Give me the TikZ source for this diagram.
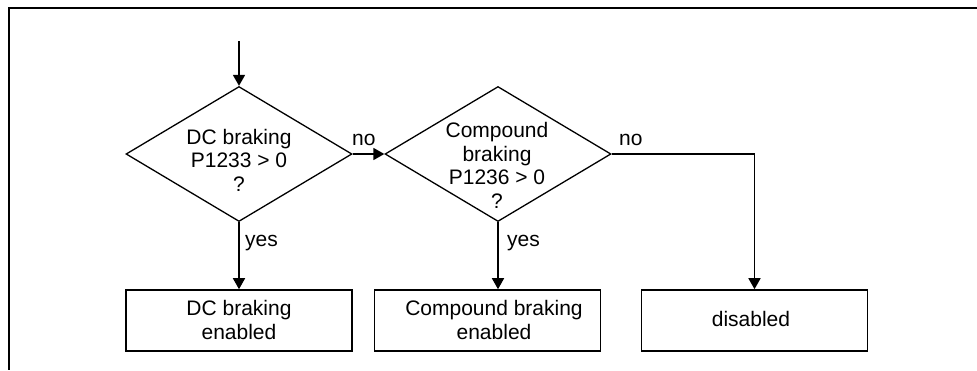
\documentclass[tikz,border=0pt]{standalone}
\usepackage{fontspec}
\setmainfont{Liberation Sans}
\usetikzlibrary{shapes.geometric,arrows.meta}
\begin{document}
\begin{tikzpicture}[x=1pt,y=-1pt,
  every node/.style={font=\fontsize{21}{23.5}\selectfont},
  dia/.style={draw,line width=1.3pt,shape=diamond,inner sep=0pt,minimum width=226pt,minimum height=135pt,aspect=1.67},
  box/.style={draw,line width=1.6pt,rectangle,inner sep=0pt,minimum width=226pt,minimum height=61pt},
  txt/.style={align=center,inner sep=0pt},
  lab/.style={anchor=west,inner sep=0pt},
  conn/.style={line width=1.6pt,-{Triangle[length=11pt,width=12pt]}}]
\useasboundingbox (0,0) rectangle (977,370);
\draw[line width=2.2pt] (977,8) -- (9,8) -- (9,370);
\node[dia] (d1) at (239,154) {};
\node[dia] (d2) at (498,154) {};
\node[txt] (t1) at (239,160) {DC braking\\P1233 > 0\\?};
\node[txt] (t2) at (497,165.5) {Compound\\braking\\P1236 > 0\\?};
\node[box] (b1) at (239,320.5) {};
\node[box] (b2) at (487.5,320.5) {};
\node[box] (b3) at (754.5,320.5) {};
\node[txt] (bt1) at (239,320) {DC braking\\enabled};
\node[txt] (bt2) at (494,320) {Compound braking\\enabled};
\node[txt] (bt3) at (751,319) {disabled};
\coordinate (start) at (239,41);
\draw[conn] (start) -- (d1.north);
\draw[conn] (d1.east) -- (d2.west);
\draw[conn] (d1.south) -- (b1.north);
\draw[conn] (d2.south) -- (d2.south |- b2.north);
\draw[conn] (d2.east) -| (b3.north);
\node[lab] (no1) at (352,140) {no};
\node[lab] (no2) at (619,140) {no};
\node[lab] (yes1) at (245,243) {yes};
\node[lab] (yes2) at (507,243) {yes};
\end{tikzpicture}
\end{document}
